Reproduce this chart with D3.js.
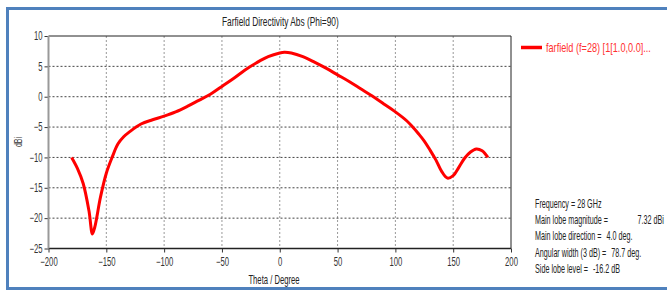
<!DOCTYPE html>
<html><head><meta charset="utf-8">
<script src="https://cdn.jsdelivr.net/npm/d3@7"></script>
<style>
body{margin:0;background:#fff;}
svg text{font-family:"Liberation Sans",Arial,sans-serif;}
</style></head>
<body><svg id="c" width="667" height="290"></svg>
<script>
const theta = [-180,-175,-170,-165,-162,-160,-155,-150,-145,-140,-135,-130,-120,-110,-100,-90,-80,-70,-60,-50,-40,-30,-20,-10,0,4,10,20,30,40,50,60,70,80,90,100,110,115,120,125,130,135,140,145,150,155,160,165,170,175,180];
const directivity = [-10,-11.8,-14.3,-18.8,-22.6,-21.5,-16.5,-12.6,-10,-7.8,-6.6,-5.8,-4.5,-3.8,-3.2,-2.5,-1.6,-0.6,0.4,1.7,3.0,4.4,5.6,6.6,7.2,7.32,7.2,6.6,5.7,4.7,3.6,2.5,1.3,0.1,-1.2,-2.5,-4.0,-5.0,-6.1,-7.3,-8.8,-10.4,-12.3,-13.4,-13.0,-11.6,-10.1,-9.1,-8.6,-8.9,-10];
const xTicks = [-200,-150,-100,-50,0,50,100,150,200];
const yTicks = [10,5,0,-5,-10,-15,-20,-25];
const title = "Farfield Directivity Abs (Phi=90)";
const xLabel = "Theta / Degree";
const yLabel = "dBi";
const legendLabel = "farfield (f=28) [1[1.0,0.0]...";
const infoLabels = ["Frequency = 28 GHz","Main lobe magnitude =","Main lobe direction =","Angular width (3 dB) =","Side lobe level ="];
const infoValues = ["","7.32 dBi","4.0 deg.","78.7 deg.","-16.2 dB"];

const svg = d3.select("#c");
const L=48.5, R=511, T=36, B=248.5;
const x = d3.scaleLinear().domain([-200,200]).range([L,R]);
const y = d3.scaleLinear().domain([-25,10]).range([B,T]);
const FS = 12;
const SQ = 0.64;

function fitText(parent, str, x0, x1, yb, size, color){
  const t = parent.append("text").attr("font-size",size).attr("fill",color).text(str);
  const w = t.node().getComputedTextLength();
  t.attr("transform",`translate(${x0},${yb}) scale(${((x1-x0)/w).toFixed(4)},1)`);
  return t;
}
function squeezeText(parent, str, cx, yb, size, color, anchor, f){
  return parent.append("text").attr("font-size",size).attr("fill",color).attr("text-anchor",anchor||"middle")
    .attr("transform",`translate(${cx},${yb}) scale(${f||SQ},1)`).text(str);
}

// frame
svg.append("path").attr("d","M7.5,300 L7.5,8.5 L680,8.5 M7.5,288.5 L680,288.5")
  .attr("fill","none").attr("stroke","#4f81bd").attr("stroke-width",3);

// grid
svg.append("g").selectAll("line").data(xTicks.filter(d=>d>-200&&d<200)).join("line")
  .attr("x1",d=>x(d)).attr("x2",d=>x(d)).attr("y1",T).attr("y2",B)
  .attr("stroke","#999").attr("stroke-dasharray","2,2");
svg.append("g").selectAll("line").data(yTicks.filter(d=>d>-25&&d<10)).join("line")
  .attr("x1",L).attr("x2",R).attr("y1",d=>y(d)).attr("y2",d=>y(d))
  .attr("stroke","#444").attr("stroke-dasharray","2,2");

// axes
const xa = svg.append("g").attr("transform",`translate(0,${B})`)
  .call(d3.axisBottom(x).tickValues(xTicks).tickSize(4).tickFormat(d3.format("d")));
const ya = svg.append("g").attr("transform",`translate(${L},0)`)
  .call(d3.axisLeft(y).tickValues(yTicks).tickSize(4).tickFormat(d3.format("d")));
[xa,ya].forEach(a=>{
  a.select(".domain").remove();
  a.selectAll("text").attr("font-size",FS).attr("fill","#333")
   .style("font-family",'"Liberation Sans",Arial,sans-serif');
  a.selectAll("line").attr("stroke","#333");
});
xa.selectAll("text").attr("dy","0.71em").attr("y",9).attr("transform",`scale(${SQ},1)`);
ya.selectAll("text").attr("x",-6/SQ).attr("transform",`scale(${SQ},1)`);

// plot box
svg.append("line").attr("x1",L).attr("x2",R).attr("y1",T).attr("y2",T).attr("stroke","#222");
svg.append("line").attr("x1",R).attr("x2",R).attr("y1",T).attr("y2",B).attr("stroke","#222");
svg.append("line").attr("x1",L).attr("x2",R).attr("y1",B).attr("y2",B).attr("stroke","#222").attr("stroke-width",1.5);
svg.append("line").attr("x1",L).attr("x2",L).attr("y1",T).attr("y2",B).attr("stroke","#999").attr("stroke-width",2);

// curve
const pts = theta.map((t,i)=>[t,directivity[i]]);
svg.append("path").datum(pts)
  .attr("d",d3.line().x(d=>x(d[0])).y(d=>y(d[1])).curve(d3.curveCatmullRom.alpha(0.5)))
  .attr("fill","none").attr("stroke","#ff0000").attr("stroke-width",3).attr("stroke-linejoin","round");

// titles
fitText(svg, title, 222, 339, 26, FS, "#222");
squeezeText(svg, xLabel, 274, 284, FS, "#222");
svg.append("text").attr("transform",`translate(22,142) rotate(-90) scale(${SQ},1)`)
  .attr("text-anchor","middle").attr("font-size",11).attr("fill","#333").text(yLabel);

// legend
svg.append("line").attr("x1",521).attr("x2",542).attr("y1",47.5).attr("y2",47.5).attr("stroke","#ff0000").attr("stroke-width",3.5);
fitText(svg, legendLabel, 546, 651, 51.5, FS, "#ff3030");

// info block
const infoY = [207.5,223.5,240,256.5,272.5];
const valStart = [0,639,593,600,568];
const fI = 0.6;
infoLabels.forEach((s,i)=>{
  const a = squeezeText(svg, s, 535, infoY[i], FS, "#222", "start", fI);
  if(!infoValues[i]) return;
  const lw = a.node().getComputedTextLength()*fI;
  const vx = Math.max(valStart[i], 535+lw+5);
  const b = svg.append("text").attr("font-size",FS).attr("fill","#222").text(infoValues[i]);
  const vw = b.node().getComputedTextLength()*fI;
  const vxx = Math.min(vx, 664 - vw);
  b.attr("transform",`translate(${vxx},${infoY[i]}) scale(${fI},1)`);
});
</script></body></html>
